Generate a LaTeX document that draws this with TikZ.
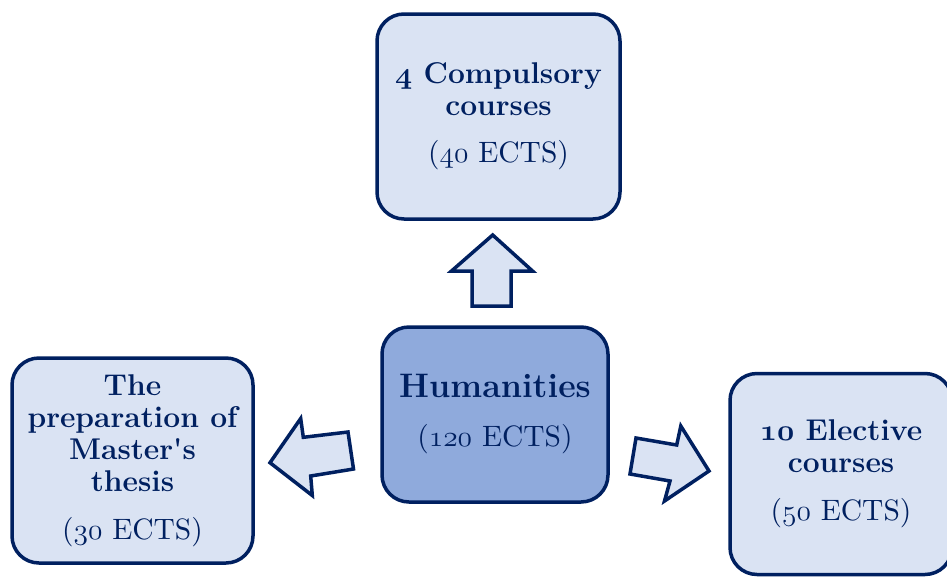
\RequirePackage{fix-cm}
\documentclass[tikz,border=0pt]{standalone}
\usepackage{fontspec}
\newfontfamily\regten{lmroman10-regular.otf}
\definecolor{navy}{RGB}{0,32,96}
\definecolor{lightfill}{RGB}{218,227,243}
\definecolor{midfill}{RGB}{143,170,220}
\newcommand\osn[1]{{\usefont{OML}{cmm}{m}{it}#1}}
\newcommand\bosn[1]{{\usefont{OML}{cmm}{b}{it}#1}}
\newcommand\ects[1]{\fontsize{29.5}{31}\selectfont\regten(\osn{#1} ECTS)}
\begin{document}
\begin{tikzpicture}[x=1pt,y=-1pt,
  box/.style={draw=navy, line width=3.5pt, rounded corners=27pt, fill=lightfill,
    text=navy, align=center, inner sep=0pt,
    font=\fontsize{30}{32}\selectfont\bfseries},
  blockarrow/.style={draw=navy, line width=3.5pt, fill=lightfill, line join=miter}]
\useasboundingbox (0,0) rectangle (947,576);

\node[box, minimum width=243pt, minimum height=205pt] (comp) at (498.5,116.5)
  {\bosn{4} Compulsory\\courses\\[15pt]\ects{40}};

\node[box, fill=midfill, minimum width=226pt, minimum height=175pt,
  font=\fontsize{34}{36}\selectfont\bfseries] (hum) at (495,414.5)
  {Humanities\\[13pt]\ects{120}};

\node[box, minimum width=241pt, minimum height=205pt] (thesis) at (132.5,460.5)
  {The\\preparation of\\Master\textquotesingle s\\thesis\\[16pt]\ects{30}};

\node[box, minimum width=222pt, minimum height=201pt] (elec) at (841,474)
  {\bosn{10} Elective\\courses\\[16pt]\ects{50}};

% up arrow
\draw[blockarrow] (492.7,235) -- (532.5,271) -- (511,271) -- (511,306)
  -- (472,306) -- (472,271) -- (451.5,271) -- cycle;
% left arrow
\draw[blockarrow] (270,462.7) -- (300.7,418.5) -- (303.3,437.3) -- (348,432)
  -- (353.5,469) -- (310.7,476) -- (312.3,495.5) -- cycle;
% right arrow
\draw[blockarrow] (709,471) -- (664.5,501) -- (670,481) -- (630,474)
  -- (636,438) -- (676.7,445) -- (680.8,426) -- cycle;
\end{tikzpicture}
\end{document}
